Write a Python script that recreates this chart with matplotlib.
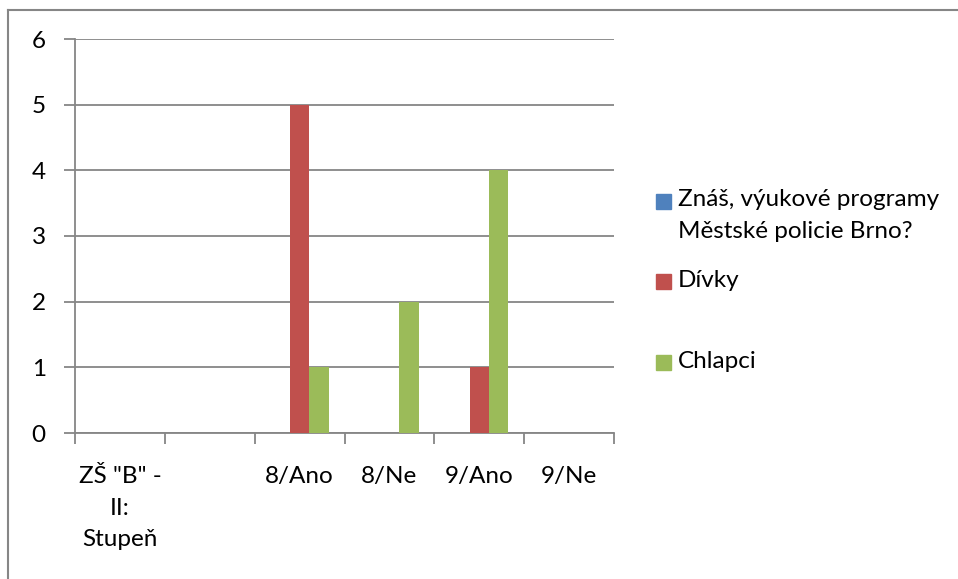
import matplotlib
matplotlib.use("Agg")
import matplotlib.pyplot as plt
import numpy as np
from matplotlib.patches import Rectangle
from matplotlib.lines import Line2D

plt.rcParams['font.family'] = ['Lato', 'DejaVu Sans']

categories = ['ZŠ "B" -\nII:\nStupeň', '', '8/Ano', '8/Ne', '9/Ano', '9/Ne']
series_names = ['Znáš, výukové programy\nMěstské policie Brno?', 'Dívky', 'Chlapci']
znas = [0, 0, 0, 0, 0, 0]
divky = [0, 0, 5, 0, 1, 0]
chlapci = [0, 0, 1, 2, 4, 0]
series_values = [znas, divky, chlapci]
colors = ['#4F81BD', '#C0504D', '#9BBB59']
yticks = [0, 1, 2, 3, 4, 5, 6]

W, H = 958, 579
fig = plt.figure(figsize=(W / 100, H / 100), dpi=100)
fig.patch.set_facecolor('white')

def fx(px):
    return px / W

def fy(py):
    return 1 - py / H

FS = 17.5

# chart border (partially visible)
grey = '#868686'
fig.add_artist(Line2D([fx(7.5), fx(7.5)], [0, fy(9.5)], color=grey, lw=1.5))
fig.add_artist(Line2D([fx(7.5), 1], [fy(9.5), fy(9.5)], color=grey, lw=1.5))

left, right, top, bottom = 75, 614, 39, 433
ax = fig.add_axes([fx(left), fy(bottom), fx(right - left), (bottom - top) / H])

n = len(categories)
x = np.arange(n)
bw = 0.217
for i, (vals, c) in enumerate(zip(series_values, colors)):
    ax.bar(x + (i - 1) * bw, vals, width=bw, color=c, edgecolor='none', zorder=3)

ax.set_xlim(-0.5, n - 0.5)
ax.set_ylim(0, 6)
ax.set_yticks(yticks)
ax.set_yticklabels([str(v) for v in yticks])
ax.yaxis.grid(True, color=grey, lw=1.3, zorder=0)
ax.set_axisbelow(True)

ax.set_xticks(x)
ax.set_xticklabels(categories, linespacing=1.62)
ax.set_xticks(np.arange(-0.5, n, 1.0), minor=True)
ax.tick_params(axis='x', which='major', length=0, pad=24, labelsize=FS)
ax.tick_params(axis='x', which='minor', length=8, width=1.3, color=grey, direction='out')
ax.tick_params(axis='y', length=8, width=1.3, color=grey, direction='out', pad=13, labelsize=FS)
for lab in ax.get_xticklabels():
    lab.set_verticalalignment('top')

for s in ['top', 'right']:
    ax.spines[s].set_visible(False)
for s in ['left', 'bottom']:
    ax.spines[s].set_color(grey)
    ax.spines[s].set_linewidth(1.3)

# legend (manual, to match irregular spacing)
leg_y = [201.5, 281.7, 362.5]
for name, c, yy in zip(series_names, colors, leg_y):
    fig.add_artist(Rectangle((fx(656), fy(yy + 7.5)), fx(15), 15 / H, color=c,
                             transform=fig.transFigure))
    fig.text(fx(678), fy(yy - 12), name, fontsize=FS, va='top', ha='left',
             linespacing=1.6)

fig.savefig('out.png', dpi=100)
